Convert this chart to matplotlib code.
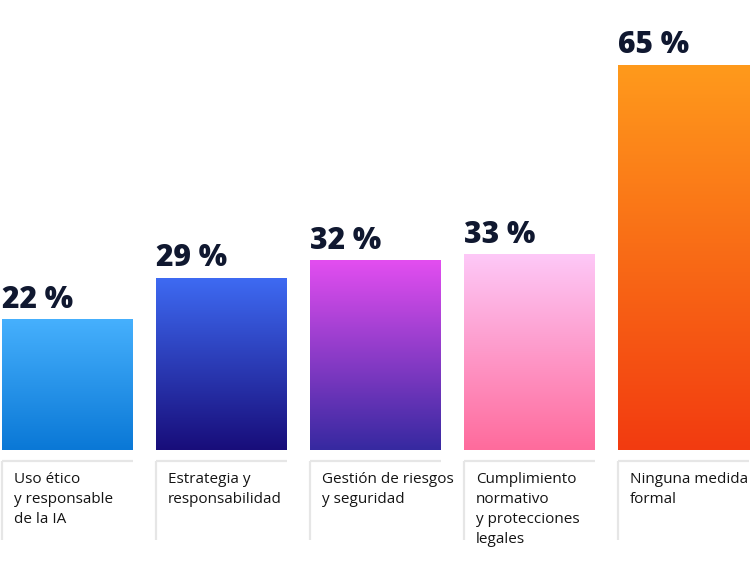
import matplotlib
matplotlib.use("Agg")
import matplotlib.pyplot as plt
from matplotlib.colors import LinearSegmentedColormap
import numpy as np

categories = ["Uso ético\ny responsable\nde la IA",
              "Estrategia y\nresponsabilidad",
              "Gestión de riesgos\ny seguridad",
              "Cumplimiento\nnormativo\ny protecciones\nlegales",
              "Ninguna medida\nformal"]
values = [22, 29, 32, 33, 65]
top_colors = ["#46b0fd", "#3e6af2", "#e34ef0", "#fdc8f7", "#ff9a1c"]
bottom_colors = ["#0a78d6", "#180d7a", "#3629a0", "#ff6b9c", "#f23b10"]

W, H = 750, 563
fig = plt.figure(figsize=(W / 100, H / 100), dpi=100)
ax = fig.add_axes([0, 0, 1, 1])
ax.set_axis_off()

step = 154.0
ppu = 5.92
xmin = -67.5 / step
ymin = -113 / ppu

bw = 131 / step
grad = np.linspace(0, 1, 256).reshape(-1, 1)
for i, (cat, v) in enumerate(zip(categories, values)):
    cmap = LinearSegmentedColormap.from_list("g%d" % i, [bottom_colors[i], top_colors[i]])
    left = i - bw / 2
    ax.imshow(grad, cmap=cmap, origin="lower", aspect="auto",
              extent=[left, left + bw, 0, v], interpolation="bicubic")
    ax.annotate("%d %%" % v, xy=(left, v), xytext=(0, 8.6), textcoords="offset points",
                ha="left", va="baseline", fontsize=21.5, fontweight=800,
                color="#101830", family="Open Sans")
    # label box lines
    ytop = -11 / ppu
    ybot = -90 / ppu
    ax.plot([left, left + bw], [ytop, ytop], color="#e6e6e6", lw=1.6, solid_capstyle="butt")
    ax.plot([left, left], [ytop, ybot], color="#e6e6e6", lw=1.6, solid_capstyle="butt")
    ax.text(left + 12 / step, -22 / ppu, cat, ha="left", va="top", fontsize=11,
            color="#141414", family="Open Sans", linespacing=1.45)

ax.set_xlim(xmin, xmin + W / step)
ax.set_ylim(ymin, ymin + H / ppu)
fig.savefig("out.png", dpi=100)
